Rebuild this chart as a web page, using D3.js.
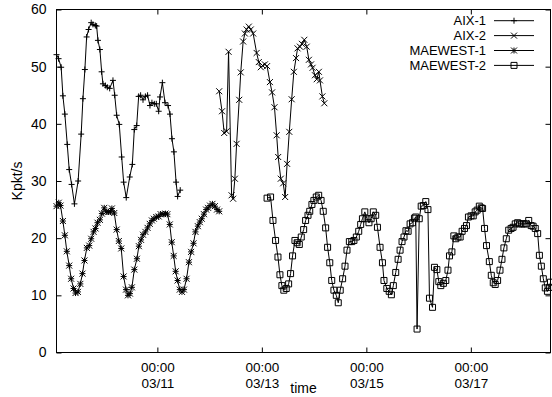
<!DOCTYPE html>
<html>
<head>
<meta charset="utf-8">
<script src="https://cdn.jsdelivr.net/npm/d3@7"></script>
<style>
  body { margin: 0; background: #fff; }
  svg text { font-family: "Liberation Sans", Arial, Helvetica, sans-serif; font-size: 14px; fill: #000; }
</style>
</head>
<body>
<svg id="chart" width="552" height="397"></svg>
<script>
// hours since 03/09 00:00
const aix1Hours = [1.66, 2.6, 3.8, 4.6, 5.5, 6.6, 7.5, 8.6, 9.9, 11.6, 13.0, 13.8, 14.7, 15.5, 16.4, 17.6, 18.4, 19.5, 20.1, 20.7,
  21.6, 22.4, 23.0, 24.1, 25.0, 26.1, 27.6, 28.4, 29.3, 30.5, 31.6, 32.5, 33.7, 35.3, 36.5, 37.4, 38.5, 39.4, 40.3, 41.4,
  42.5, 43.5, 44.6, 45.5, 46.6, 47.5, 48.6, 49.2, 50.3, 51.5, 52.9, 53.8, 54.7, 55.6, 56.6, 57.3, 58.5];
const aix1Values = [52.1, 51.4, 49.9, 44.9, 41.7, 36.4, 32.0, 29.4, 26.0, 30.0, 38.2, 44.4, 49.5, 55.2, 56.5, 57.7, 57.4, 57.2, 57.1, 54.6,
  53.0, 49.1, 47.0, 46.7, 46.4, 46.2, 47.6, 45.0, 41.5, 39.9, 34.2, 29.8, 27.1, 30.7, 32.9, 39.0, 39.7, 44.8, 45.0, 44.2,
  44.8, 45.0, 43.2, 43.7, 43.5, 43.5, 42.2, 44.7, 47.2, 43.7, 43.2, 41.7, 37.4, 35.1, 29.8, 27.3, 28.4];

const aix2Hours = [76.4, 77.7, 78.7, 79.8, 80.7, 82.1, 82.8, 83.6, 84.4, 85.6, 86.3, 87.4, 88.2, 89.0, 90.0, 90.9, 92.0, 93.6, 94.6,
  95.5, 96.3, 97.4, 98.4, 99.7, 100.7, 101.8, 102.8, 103.5, 104.7, 105.8, 106.7, 107.6, 108.6, 109.7, 110.7, 111.7, 112.4, 113.5, 114.4,
  115.5, 116.6, 117.6, 118.6, 119.3, 120.4, 121.2, 122.2, 122.7, 123.8, 124.7];
const aix2Values = [45.7, 42.2, 38.4, 38.7, 52.6, 27.5, 26.9, 30.4, 36.5, 44.2, 49.0, 54.4, 55.8, 56.5, 57.0, 56.5, 55.8, 52.4, 50.8,
  49.9, 50.2, 50.4, 50.1, 47.3, 45.5, 42.9, 38.0, 34.2, 30.4, 29.6, 27.2, 33.0, 38.6, 44.3, 49.1, 51.5, 53.2, 53.5, 54.0,
  54.7, 53.5, 51.2, 50.4, 49.8, 48.5, 47.8, 49.1, 47.6, 44.8, 43.6];

const maewest1Hours = [1.66, 2.7, 3.5, 4.6, 5.5, 6.4, 7.5, 8.4, 9.5, 10.4, 11.5, 12.6, 13.6, 14.5, 15.6, 16.7, 17.6, 18.7, 19.6, 20.5,
  21.6, 22.5, 23.6, 24.5, 25.5, 26.5, 27.1, 28.2, 29.3, 30.3, 31.4, 32.5, 33.6, 34.5, 35.4, 36.3, 37.4, 38.6, 39.5, 40.5,
  41.4, 42.5, 43.5, 44.5, 45.5, 46.4, 47.5, 48.6, 49.5, 50.6, 51.7, 52.6, 53.7, 54.6, 55.5, 56.4, 57.3, 58.3, 59.3, 60.2,
  61.4, 62.5, 63.5, 64.6, 65.5, 66.6, 67.5, 68.4, 69.4, 70.4, 71.3, 72.2, 73.3, 74.4, 75.4, 76.4];
const maewest1Values = [25.6, 26.2, 25.7, 23.0, 20.5, 17.7, 15.2, 12.9, 11.2, 10.4, 10.6, 12.0, 13.8, 16.1, 18.3, 18.7, 19.9, 21.1, 21.7, 22.7,
  23.2, 24.3, 25.3, 24.6, 24.6, 24.6, 25.2, 24.4, 21.5, 19.5, 18.2, 13.3, 11.0, 10.0, 10.3, 11.4, 14.5, 16.4, 18.6, 19.7,
  20.6, 21.1, 21.8, 22.5, 23.1, 23.4, 23.7, 23.8, 24.2, 24.2, 24.3, 24.2, 22.4, 19.3, 16.9, 14.2, 12.6, 11.0, 10.6, 11.0,
  12.9, 15.8, 17.6, 19.1, 21.1, 22.1, 22.8, 23.4, 24.2, 25.0, 25.3, 25.7, 26.0, 25.6, 25.0, 24.7];

const maewest2Hours = [98.4, 100.0, 101.1, 102.3, 103.4, 104.3, 105.2, 106.1, 107.2, 108.3, 109.2, 110.1, 111.2, 112.2, 113.2, 114.1,
  115.2, 116.1, 117.2, 118.0, 119.0, 119.9, 121.0, 122.1, 123.2, 124.2, 125.3, 126.2, 127.2, 128.1, 129.1, 130.2, 131.1, 132.0,
  133.1, 134.2, 135.1, 136.2, 137.3, 138.3, 139.4, 140.5, 141.4, 142.2, 143.3, 144.3, 145.2, 146.2, 147.2, 148.3, 149.1, 150.3,
  151.4, 152.1, 153.4, 154.5, 155.5, 156.4, 157.5, 158.6, 159.5, 160.4, 161.3, 162.2, 163.2, 164.1, 165.2, 166.1, 166.7, 167.3,
  168.3, 169.2, 170.2, 171.3, 172.3, 173.0, 174.4, 175.3, 176.4, 177.3, 178.2, 179.4, 180.5, 181.5, 182.2, 183.3, 184.2, 185.1,
  186.1, 187.1, 188.0, 189.1, 190.0, 190.9, 192.1, 193.1, 194.0, 194.9, 195.9, 196.8, 197.4, 198.3, 199.2, 200.5, 201.4, 202.3,
  203.2, 204.3, 205.4, 206.3, 207.2, 208.3, 209.4, 210.5, 211.4, 212.4, 213.5, 214.4, 215.5, 216.4, 217.5, 218.6, 219.7, 220.6,
  221.6, 222.7, 223.5, 224.4, 225.3, 226.2, 227.2, 228.1, 228.6];
const maewest2Values = [27.0, 27.2, 23.1, 19.6, 16.7, 13.6, 11.7, 10.9, 11.2, 12.0, 13.8, 16.9, 19.6, 19.2, 18.9, 20.2,
  21.5, 23.1, 24.0, 24.7, 25.9, 26.6, 27.2, 27.5, 26.6, 24.7, 21.8, 18.4, 15.7, 12.6, 10.9, 10.0, 8.7, 10.9,
  12.9, 15.1, 17.9, 19.4, 19.4, 19.6, 20.2, 21.2, 22.4, 23.4, 24.6, 23.4, 22.7, 23.4, 24.6, 24.0, 21.9, 18.4,
  15.7, 12.6, 11.2, 10.7, 10.1, 11.7, 14.0, 16.3, 17.9, 19.4, 20.2, 21.3, 21.2, 22.5, 22.7, 23.5, 23.7, 4.1,
  23.4, 25.6, 25.7, 26.4, 25.0, 9.5, 7.9, 14.9, 14.5, 12.4, 11.7, 12.1, 12.6, 14.4, 16.9, 17.6, 20.4, 19.9,
  20.2, 20.2, 21.2, 21.7, 22.2, 23.7, 23.9, 23.9, 24.6, 24.9, 25.6, 25.3, 25.2, 21.7, 18.7, 15.9, 13.5, 12.2,
  11.9, 12.6, 14.4, 16.3, 18.3, 19.9, 21.4, 21.7, 21.9, 22.5, 22.7, 22.5, 22.5, 22.5, 22.5, 23.1, 22.2, 22.1,
  21.7, 20.8, 17.0, 15.1, 12.9, 11.3, 10.7, 11.4, 12.3];

const seriesNames = ['AIX-1', 'AIX-2', 'MAEWEST-1', 'MAEWEST-2'];
const xTickHours = [48, 96, 144, 192];
const yTicks = [0, 10, 20, 30, 40, 50, 60];

const base = Date.UTC(2000, 2, 9);
const toDate = h => new Date(base + h * 3600e3);

const series = [
  { name: seriesNames[0], marker: 'plus', pts: aix1Hours.map((h, i) => ({ x: toDate(h), y: aix1Values[i] })) },
  { name: seriesNames[1], marker: 'cross', pts: aix2Hours.map((h, i) => ({ x: toDate(h), y: aix2Values[i] })) },
  { name: seriesNames[2], marker: 'star', pts: maewest1Hours.map((h, i) => ({ x: toDate(h), y: maewest1Values[i] })) },
  { name: seriesNames[3], marker: 'box', pts: maewest2Hours.map((h, i) => ({ x: toDate(h), y: maewest2Values[i] })) }
];

const plotL = 56.5, plotR = 550.5, plotT = 9.5, plotB = 352.5;
const svg = d3.select('#chart');

const x = d3.scaleUtc()
  .domain([toDate(aix1Hours[0]), toDate(maewest2Hours[maewest2Hours.length - 1])])
  .range([plotL, plotR]);
const y = d3.scaleLinear().domain([0, 60]).range([plotB, plotT]);

function markerPath(type) {
  const s = 3;
  if (type === 'plus') return `M${-s},0H${s}M0,${-s}V${s}`;
  if (type === 'cross') return `M${-s},${-s}L${s},${s}M${-s},${s}L${s},${-s}`;
  if (type === 'star') return `M${-s},0H${s}M0,${-s}V${s}M${-s},${-s}L${s},${s}M${-s},${s}L${s},${-s}`;
  return `M${-s},${-s}H${s}V${s}H${-s}Z`;
}

// axes, ticks pointing inward on all four sides
const fmtTime = d3.utcFormat('%H:%M');
const fmtDay = d3.utcFormat('%m/%d');
const xTicks = xTickHours.map(toDate);

const gx = svg.append('g')
  .attr('transform', `translate(0,${plotB})`)
  .call(d3.axisBottom(x).tickValues(xTicks).tickSizeInner(-5).tickSizeOuter(0).tickFormat(''));
gx.selectAll('.tick text').remove();
gx.selectAll('.tick').append('text')
  .attr('text-anchor', 'middle')
  .attr('y', 19.8)
  .style('font-size', '13.5px')
  .text(d => fmtTime(d));
gx.selectAll('.tick').append('text')
  .attr('text-anchor', 'middle')
  .attr('y', 35.4)
  .style('font-size', '13.5px')
  .text(d => fmtDay(d));

svg.append('g')
  .attr('transform', `translate(0,${plotT})`)
  .call(d3.axisTop(x).tickValues(xTicks).tickSizeInner(-5).tickSizeOuter(0).tickFormat(''));

svg.append('g')
  .attr('transform', `translate(${plotL},0)`)
  .call(d3.axisLeft(y).tickValues(yTicks).tickSizeInner(-5).tickSizeOuter(0).tickPadding(10));

svg.append('g')
  .attr('transform', `translate(${plotR},0)`)
  .call(d3.axisRight(y).tickValues(yTicks).tickSizeInner(-5).tickSizeOuter(0).tickFormat(''));

svg.selectAll('.domain').remove();
svg.selectAll('.tick line').attr('stroke', '#000');
svg.selectAll('g').attr('font-size', null).attr('font-family', null);

svg.append('rect')
  .attr('x', plotL).attr('y', plotT)
  .attr('width', plotR - plotL).attr('height', plotB - plotT)
  .attr('fill', 'none').attr('stroke', '#000');

// axis titles
svg.append('text')
  .attr('transform', `translate(21.5,${(plotT + plotB) / 2}) rotate(-90)`)
  .attr('text-anchor', 'middle')
  .text('Kpkt/s');
svg.append('text')
  .attr('x', (plotL + plotR) / 2).attr('y', 393)
  .attr('text-anchor', 'middle')
  .text('time');

// series
const line = d3.line().x(d => x(d.x)).y(d => y(d.y));
const plot = svg.append('g');
series.forEach(s => {
  plot.append('path')
    .datum(s.pts)
    .attr('d', line)
    .attr('fill', 'none')
    .attr('stroke', '#000')
    .attr('stroke-width', 1);
  plot.append('g').selectAll('path')
    .data(s.pts)
    .join('path')
    .attr('transform', d => `translate(${x(d.x)},${y(d.y)})`)
    .attr('d', markerPath(s.marker))
    .attr('fill', 'none')
    .attr('stroke', '#000')
    .attr('stroke-width', 1);
});

// legend
const legend = svg.append('g');
series.forEach((s, i) => {
  const ly = 20.7 + i * 14.9;
  legend.append('text')
    .attr('x', 486).attr('y', ly + 4.6)
    .attr('text-anchor', 'end')
    .style('font-size', '13px')
    .text(s.name);
  legend.append('line')
    .attr('x1', 494).attr('x2', 534)
    .attr('y1', ly).attr('y2', ly)
    .attr('stroke', '#000');
  legend.append('path')
    .attr('transform', `translate(514,${ly})`)
    .attr('d', markerPath(s.marker))
    .attr('fill', 'none')
    .attr('stroke', '#000');
});
</script>
</body>
</html>
